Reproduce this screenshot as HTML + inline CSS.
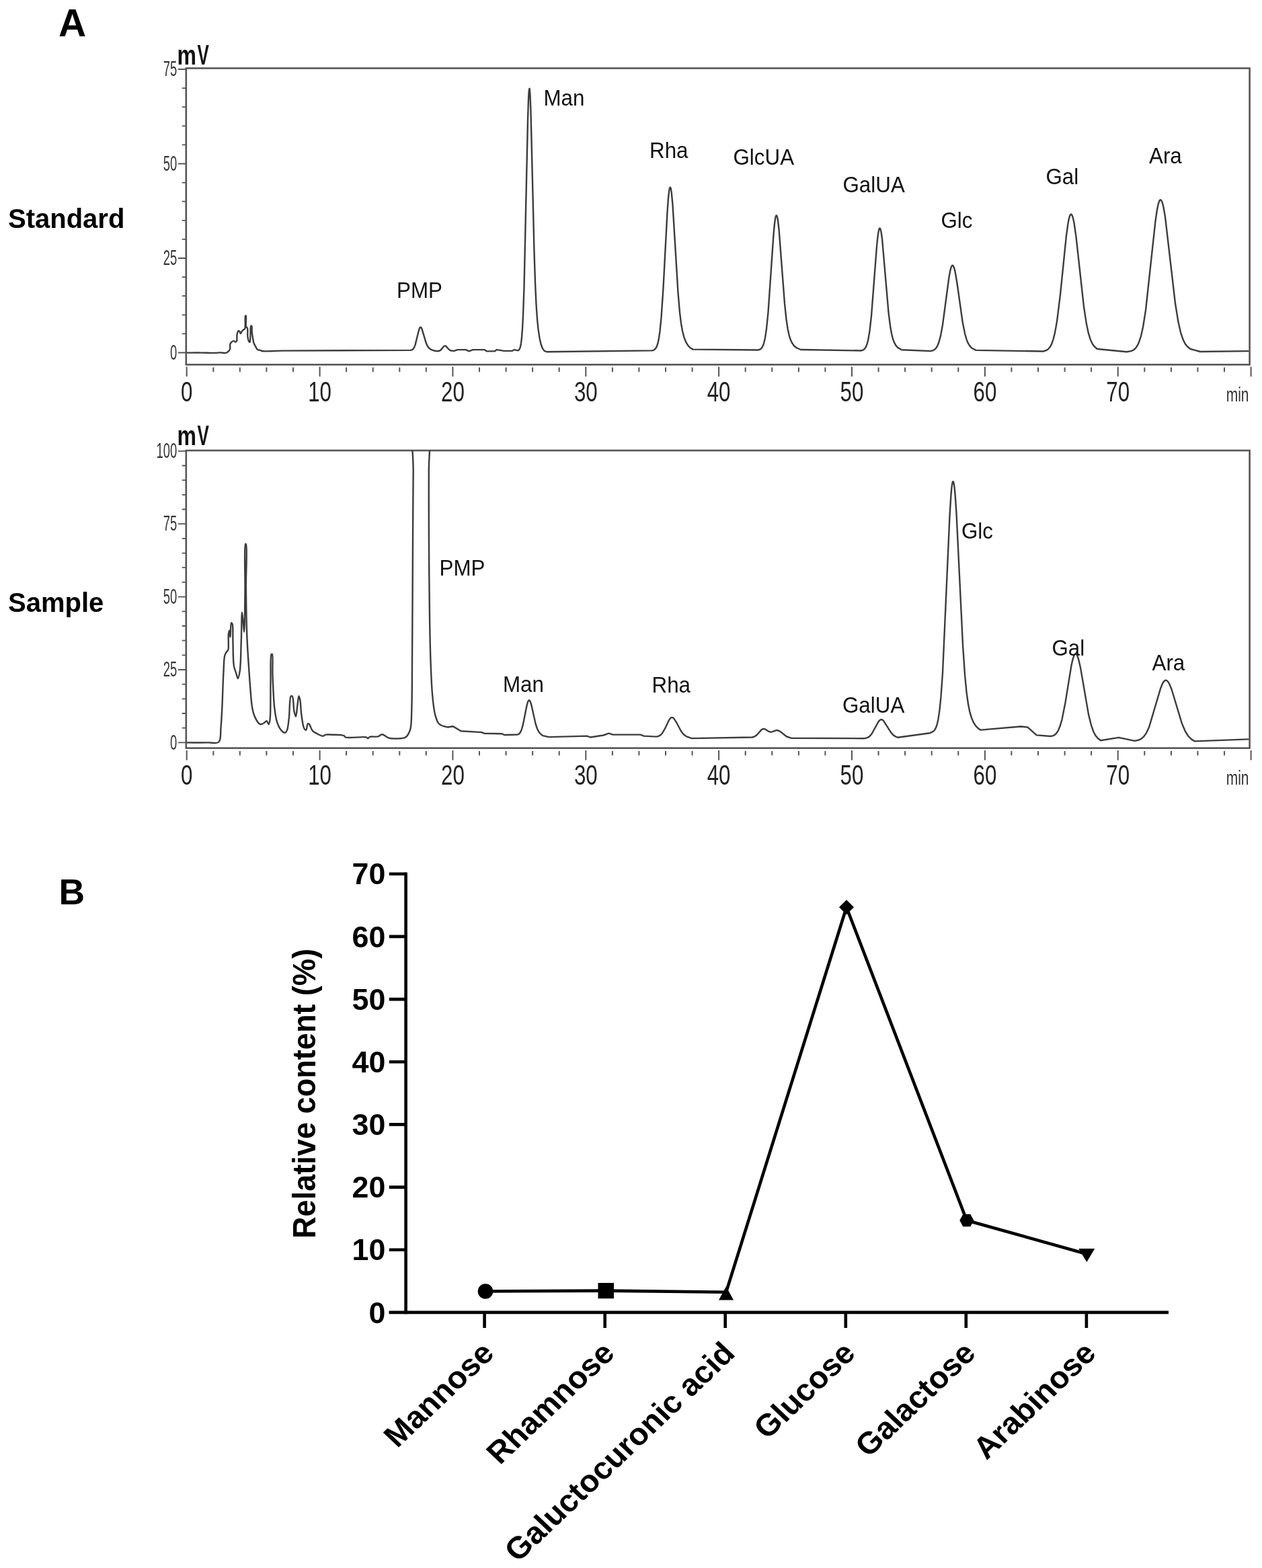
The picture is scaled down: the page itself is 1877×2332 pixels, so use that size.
<!DOCTYPE html>
<html><head><meta charset="utf-8"><title>Figure</title>
<style>html,body{margin:0;padding:0;background:#fff;}svg{display:block;}</style>
</head><body>
<svg width="1877" height="2332" viewBox="0 0 1877 2332" font-family='"Liberation Sans", Arial, sans-serif'>
<rect width="1877" height="2332" fill="#fff"/>
<text x="87.0" y="54.0" font-size="57.0" font-weight="bold" text-anchor="start" fill="#000">A</text>
<text x="12.0" y="339.0" font-size="40.0" font-weight="bold" text-anchor="start" fill="#000">Standard</text>
<text x="12.0" y="910.0" font-size="40.0" font-weight="bold" text-anchor="start" fill="#000">Sample</text>
<rect x="276.8" y="101.5" width="1581.8" height="440.8" fill="none" stroke="#555" stroke-width="2.6"/>
<path d="M264.8 524.5H276.8M270.8 496.4H276.8M270.8 468.3H276.8M270.8 440.2H276.8M270.8 412.1H276.8M264.8 384.0H276.8M270.8 355.9H276.8M270.8 327.8H276.8M270.8 299.7H276.8M270.8 271.6H276.8M264.8 243.5H276.8M270.8 215.4H276.8M270.8 187.3H276.8M270.8 159.2H276.8M270.8 131.1H276.8M264.8 103.0H276.8" stroke="#555" stroke-width="1.8" fill="none"/>
<path d="M277.7 545.5V560.0M317.3 546.5V553.0M356.8 546.5V553.0M396.4 546.5V553.0M436.0 546.5V553.0M475.6 545.5V560.0M515.1 546.5V553.0M554.7 546.5V553.0M594.3 546.5V553.0M633.8 546.5V553.0M673.4 545.5V560.0M713.0 546.5V553.0M752.6 546.5V553.0M792.1 546.5V553.0M831.7 546.5V553.0M871.3 545.5V560.0M910.9 546.5V553.0M950.4 546.5V553.0M990.0 546.5V553.0M1029.6 546.5V553.0M1069.1 545.5V560.0M1108.7 546.5V553.0M1148.3 546.5V553.0M1187.9 546.5V553.0M1227.4 546.5V553.0M1267.0 545.5V560.0M1306.6 546.5V553.0M1346.1 546.5V553.0M1385.7 546.5V553.0M1425.3 546.5V553.0M1464.9 545.5V560.0M1504.4 546.5V553.0M1544.0 546.5V553.0M1583.6 546.5V553.0M1623.1 546.5V553.0M1662.7 545.5V560.0M1702.3 546.5V553.0M1741.9 546.5V553.0M1781.4 546.5V553.0M1821.0 546.5V553.0M1860.6 545.5V560.0" stroke="#555" stroke-width="2" fill="none"/>
<text transform="translate(277.7 596.8) scale(0.740 1)" font-size="42.3" font-weight="normal" text-anchor="middle" fill="#222">0</text>
<text transform="translate(475.6 596.8) scale(0.740 1)" font-size="42.3" font-weight="normal" text-anchor="middle" fill="#222">10</text>
<text transform="translate(673.4 596.8) scale(0.740 1)" font-size="42.3" font-weight="normal" text-anchor="middle" fill="#222">20</text>
<text transform="translate(871.3 596.8) scale(0.740 1)" font-size="42.3" font-weight="normal" text-anchor="middle" fill="#222">30</text>
<text transform="translate(1069.1 596.8) scale(0.740 1)" font-size="42.3" font-weight="normal" text-anchor="middle" fill="#222">40</text>
<text transform="translate(1267.0 596.8) scale(0.740 1)" font-size="42.3" font-weight="normal" text-anchor="middle" fill="#222">50</text>
<text transform="translate(1464.9 596.8) scale(0.740 1)" font-size="42.3" font-weight="normal" text-anchor="middle" fill="#222">60</text>
<text transform="translate(1662.7 596.8) scale(0.740 1)" font-size="42.3" font-weight="normal" text-anchor="middle" fill="#222">70</text>
<text transform="translate(1857.5 597.0) scale(0.700 1)" font-size="30.0" font-weight="normal" text-anchor="end" fill="#333">min</text>
<text transform="translate(263.2 534.7) scale(0.585 1)" font-size="31.5" font-weight="normal" text-anchor="end" fill="#333">0</text>
<text transform="translate(263.2 394.2) scale(0.585 1)" font-size="31.5" font-weight="normal" text-anchor="end" fill="#333">25</text>
<text transform="translate(263.2 253.7) scale(0.585 1)" font-size="31.5" font-weight="normal" text-anchor="end" fill="#333">50</text>
<text transform="translate(263.2 113.2) scale(0.585 1)" font-size="31.5" font-weight="normal" text-anchor="end" fill="#333">75</text>
<text font-weight="bold" fill="#111" font-size="40" transform="translate(263.6 95.7) scale(0.80 1)">m</text>
<text font-weight="bold" fill="#111" font-size="42.7" transform="translate(293.6 95.7) scale(0.61 1)">V</text>
<path d="M278.0 524.6C285.3 524.6 292.8 524.5 300.0 524.6C306.8 524.7 314.9 525.0 320.0 524.9C323.1 524.8 324.9 524.4 327.5 524.4C330.3 524.4 333.9 525.5 336.1 524.9C337.6 524.5 338.6 523.5 339.6 522.6C340.6 521.6 341.7 520.6 342.2 519.2C342.8 517.4 341.7 514.1 342.2 512.2C342.6 510.8 343.3 509.7 344.2 508.8C345.1 508.0 346.7 507.1 347.7 507.1C348.6 507.1 349.3 508.5 350.0 508.5C350.7 508.5 351.5 508.0 352.0 507.1C353.0 505.4 352.0 500.0 352.6 497.3C353.0 495.3 353.8 492.4 354.6 492.1C355.0 491.9 355.6 492.3 356.0 492.7C356.7 493.3 357.2 496.1 357.8 496.1C358.4 496.1 359.1 493.7 359.8 492.7C360.4 491.9 361.1 491.2 361.8 490.6C362.5 490.0 363.5 490.2 364.1 489.2C365.7 486.5 363.9 470.7 365.0 469.6C365.2 469.4 365.6 469.4 365.8 469.6C366.8 470.6 364.9 484.0 366.1 486.3C366.5 487.1 367.4 486.7 367.8 487.5C368.9 489.5 367.9 497.0 368.4 500.7C368.8 503.4 369.3 506.3 370.1 507.6C370.5 508.3 371.2 509.0 371.6 508.8C372.5 508.4 372.1 502.1 372.4 498.4C372.7 494.1 372.3 485.5 373.3 484.6C373.6 484.4 374.0 484.4 374.2 484.6C375.0 485.4 374.4 491.6 374.8 495.0C375.2 498.5 376.0 502.5 376.5 505.3C376.9 507.3 377.0 508.9 377.6 510.5C378.2 512.1 379.2 513.6 380.0 515.1C380.7 516.5 381.3 518.3 382.2 519.2C382.9 519.9 383.7 520.3 384.6 520.6C385.5 520.9 386.6 520.6 387.4 520.9C388.1 521.1 388.2 521.7 389.2 522.0C393.1 523.1 409.7 521.7 420.0 521.6L420.0 521.6L611.0 520.9L613.0 520.2L614.5 519.0L616.0 516.8L617.5 513.1L623.0 491.0L624.0 488.2L624.5 487.3L625.0 486.8L625.5 486.6L626.0 486.8L626.5 487.3L627.5 489.2L633.5 509.3L635.5 514.0L637.5 517.0L640.5 519.6L646.5 521.8L651.5 522.2L653.5 521.8L655.5 520.6L660.0 515.3L661.0 514.6L662.0 514.4L663.0 514.7L668.5 520.5L670.5 521.5L675.5 521.9L680.5 520.1L693.0 520.1L697.5 522.4L703.5 520.1L720.5 520.1L724.0 522.4L735.5 522.4L739.0 520.1L749.5 521.9L762.0 521.9L764.5 520.1L769.5 521.2L771.0 521.0L772.0 520.2L773.0 518.5L774.0 515.6L775.0 510.4L776.0 502.0L777.0 488.9L778.0 469.8L779.5 427.2L785.0 178.3L786.0 148.0L786.5 138.4L787.0 132.9L787.5 131.7L788.0 134.7L788.5 141.7L789.5 166.8L794.5 373.7L796.0 420.0L797.5 452.5L799.0 474.5L800.5 489.4L802.5 502.7L804.5 511.5L806.0 516.0L807.5 519.1L809.0 521.1L810.5 522.3L814.0 523.3L970.0 521.4L972.5 520.6L974.0 519.6L975.5 517.8L977.0 514.9L978.5 510.2L980.0 503.0L981.5 492.7L983.5 472.7L986.5 428.3L992.5 315.3L994.0 294.7L995.0 285.3L995.5 282.1L996.0 279.9L996.5 278.7L997.0 278.6L997.5 279.5L998.0 281.5L999.0 288.3L1000.5 304.9L1008.5 435.7L1011.0 464.6L1013.0 480.9L1015.0 492.3L1017.5 501.9L1020.0 508.3L1023.0 513.4L1026.5 517.2L1030.5 519.6L1127.5 520.5L1130.0 519.8L1132.0 518.4L1133.5 516.6L1135.0 513.6L1136.5 509.0L1138.0 502.4L1140.0 489.2L1142.5 464.6L1150.5 348.8L1152.0 332.9L1153.0 325.6L1153.5 323.1L1154.0 321.4L1154.5 320.5L1155.0 320.5L1155.5 321.2L1156.0 322.6L1157.0 327.8L1158.5 340.5L1167.0 451.4L1169.5 475.0L1171.5 488.4L1173.5 497.9L1175.5 504.5L1178.0 510.0L1181.0 514.2L1185.0 517.5L1191.0 520.0L1280.5 521.5L1283.5 520.7L1285.5 519.3L1287.0 517.5L1288.5 514.6L1290.0 510.3L1291.5 504.1L1293.5 492.0L1296.0 469.9L1304.0 366.5L1305.5 351.9L1306.5 345.1L1307.5 340.8L1308.0 339.8L1308.5 339.4L1309.0 339.8L1309.5 340.8L1310.5 344.7L1312.0 355.0L1321.5 464.3L1324.0 484.5L1326.0 496.0L1328.0 504.0L1330.0 509.4L1332.5 513.9L1335.5 517.1L1341.0 520.2L1384.0 522.1L1388.0 521.1L1390.5 519.5L1392.5 517.3L1394.5 513.9L1396.5 508.8L1399.0 499.4L1402.0 483.2L1411.5 412.1L1413.5 401.6L1414.5 398.0L1415.5 395.7L1416.0 395.1L1416.5 394.8L1417.0 394.8L1417.5 395.2L1418.0 395.9L1419.0 398.1L1420.5 403.7L1423.5 421.0L1431.5 477.9L1435.0 495.7L1437.5 504.6L1440.0 510.7L1442.5 514.7L1445.5 517.8L1451.5 520.9L1551.5 522.5L1556.0 521.2L1559.0 519.2L1561.5 516.3L1564.0 511.8L1566.5 504.8L1569.0 494.9L1572.0 478.1L1577.0 438.1L1586.0 350.1L1588.5 332.3L1590.0 324.8L1591.0 321.4L1592.0 319.4L1592.5 318.9L1593.0 318.7L1593.5 318.9L1594.0 319.4L1595.0 321.3L1596.0 324.5L1597.5 331.5L1600.5 352.1L1612.0 456.1L1616.0 482.1L1619.0 495.9L1622.0 505.5L1625.0 511.8L1628.0 515.8L1632.0 519.0L1675.5 523.3L1682.5 522.1L1686.0 520.5L1689.0 517.8L1691.5 514.3L1694.0 509.0L1697.0 499.8L1700.0 486.5L1704.0 461.5L1718.5 328.6L1721.0 311.7L1722.5 304.4L1723.5 300.9L1724.5 298.6L1725.0 297.8L1725.5 297.4L1726.0 297.3L1726.5 297.4L1727.0 297.8L1728.0 299.5L1729.0 302.2L1730.5 308.2L1733.0 322.6L1748.0 451.3L1752.5 479.1L1756.0 494.3L1759.5 504.8L1762.5 510.9L1766.0 515.5L1770.5 519.0L1785.0 523.0L1857.5 522.1" fill="none" stroke="#3c3c3c" stroke-width="2.4" stroke-linejoin="round"/>
<text transform="translate(590.0 443.0) scale(0.950 1)" font-size="33.0" font-weight="normal" text-anchor="start" fill="#111">PMP</text>
<text transform="translate(808.5 156.5) scale(0.950 1)" font-size="33.0" font-weight="normal" text-anchor="start" fill="#111">Man</text>
<text transform="translate(966.0 234.5) scale(0.950 1)" font-size="33.0" font-weight="normal" text-anchor="start" fill="#111">Rha</text>
<text transform="translate(1090.5 244.5) scale(0.950 1)" font-size="33.0" font-weight="normal" text-anchor="start" fill="#111">GlcUA</text>
<text transform="translate(1253.5 285.5) scale(0.950 1)" font-size="33.0" font-weight="normal" text-anchor="start" fill="#111">GalUA</text>
<text transform="translate(1399.5 338.5) scale(0.950 1)" font-size="33.0" font-weight="normal" text-anchor="start" fill="#111">Glc</text>
<text transform="translate(1555.5 273.5) scale(0.950 1)" font-size="33.0" font-weight="normal" text-anchor="start" fill="#111">Gal</text>
<text transform="translate(1709.0 243.0) scale(0.950 1)" font-size="33.0" font-weight="normal" text-anchor="start" fill="#111">Ara</text>
<rect x="276.8" y="670.0" width="1581.8" height="442.6" fill="none" stroke="#555" stroke-width="2.6"/>
<path d="M264.8 1104.4H276.8M270.8 1082.7H276.8M270.8 1061.0H276.8M270.8 1039.4H276.8M270.8 1017.7H276.8M264.8 996.0H276.8M270.8 974.3H276.8M270.8 952.6H276.8M270.8 931.0H276.8M270.8 909.3H276.8M264.8 887.6H276.8M270.8 865.9H276.8M270.8 844.2H276.8M270.8 822.6H276.8M270.8 800.9H276.8M264.8 779.2H276.8M270.8 757.5H276.8M270.8 735.8H276.8M270.8 714.2H276.8M270.8 692.5H276.8M264.8 670.8H276.8" stroke="#555" stroke-width="1.8" fill="none"/>
<path d="M277.7 1116.0V1130.5M317.3 1117.0V1123.5M356.8 1117.0V1123.5M396.4 1117.0V1123.5M436.0 1117.0V1123.5M475.6 1116.0V1130.5M515.1 1117.0V1123.5M554.7 1117.0V1123.5M594.3 1117.0V1123.5M633.8 1117.0V1123.5M673.4 1116.0V1130.5M713.0 1117.0V1123.5M752.6 1117.0V1123.5M792.1 1117.0V1123.5M831.7 1117.0V1123.5M871.3 1116.0V1130.5M910.9 1117.0V1123.5M950.4 1117.0V1123.5M990.0 1117.0V1123.5M1029.6 1117.0V1123.5M1069.1 1116.0V1130.5M1108.7 1117.0V1123.5M1148.3 1117.0V1123.5M1187.9 1117.0V1123.5M1227.4 1117.0V1123.5M1267.0 1116.0V1130.5M1306.6 1117.0V1123.5M1346.1 1117.0V1123.5M1385.7 1117.0V1123.5M1425.3 1117.0V1123.5M1464.9 1116.0V1130.5M1504.4 1117.0V1123.5M1544.0 1117.0V1123.5M1583.6 1117.0V1123.5M1623.1 1117.0V1123.5M1662.7 1116.0V1130.5M1702.3 1117.0V1123.5M1741.9 1117.0V1123.5M1781.4 1117.0V1123.5M1821.0 1117.0V1123.5M1860.6 1116.0V1130.5" stroke="#555" stroke-width="2" fill="none"/>
<text transform="translate(277.7 1166.8) scale(0.740 1)" font-size="42.3" font-weight="normal" text-anchor="middle" fill="#222">0</text>
<text transform="translate(475.6 1166.8) scale(0.740 1)" font-size="42.3" font-weight="normal" text-anchor="middle" fill="#222">10</text>
<text transform="translate(673.4 1166.8) scale(0.740 1)" font-size="42.3" font-weight="normal" text-anchor="middle" fill="#222">20</text>
<text transform="translate(871.3 1166.8) scale(0.740 1)" font-size="42.3" font-weight="normal" text-anchor="middle" fill="#222">30</text>
<text transform="translate(1069.1 1166.8) scale(0.740 1)" font-size="42.3" font-weight="normal" text-anchor="middle" fill="#222">40</text>
<text transform="translate(1267.0 1166.8) scale(0.740 1)" font-size="42.3" font-weight="normal" text-anchor="middle" fill="#222">50</text>
<text transform="translate(1464.9 1166.8) scale(0.740 1)" font-size="42.3" font-weight="normal" text-anchor="middle" fill="#222">60</text>
<text transform="translate(1662.7 1166.8) scale(0.740 1)" font-size="42.3" font-weight="normal" text-anchor="middle" fill="#222">70</text>
<text transform="translate(1857.5 1167.0) scale(0.700 1)" font-size="30.0" font-weight="normal" text-anchor="end" fill="#333">min</text>
<text transform="translate(263.2 1114.6) scale(0.585 1)" font-size="31.5" font-weight="normal" text-anchor="end" fill="#333">0</text>
<text transform="translate(263.2 1006.2) scale(0.585 1)" font-size="31.5" font-weight="normal" text-anchor="end" fill="#333">25</text>
<text transform="translate(263.2 897.8) scale(0.585 1)" font-size="31.5" font-weight="normal" text-anchor="end" fill="#333">50</text>
<text transform="translate(263.2 789.4) scale(0.585 1)" font-size="31.5" font-weight="normal" text-anchor="end" fill="#333">75</text>
<text transform="translate(263.2 681.0) scale(0.585 1)" font-size="31.5" font-weight="normal" text-anchor="end" fill="#333">100</text>
<text font-weight="bold" fill="#111" font-size="40" transform="translate(263.6 661.9) scale(0.80 1)">m</text>
<text font-weight="bold" fill="#111" font-size="42.7" transform="translate(293.6 661.9) scale(0.61 1)">V</text>
<defs><clipPath id="c2"><rect x="276" y="670" width="1583" height="443"/></clipPath></defs>
<path d="M277.8 1104.4C288.2 1104.4 300.2 1104.6 309.0 1104.4C315.4 1104.2 322.2 1106.6 325.5 1103.5C329.3 1100.0 327.7 1089.8 328.5 1082.0C329.4 1072.6 329.8 1062.5 330.4 1050.9C331.1 1036.1 331.6 1014.2 332.4 1000.2C333.0 990.3 332.8 980.3 334.3 974.9C335.0 972.1 336.2 970.4 337.2 969.0C337.9 968.1 338.7 968.2 339.2 967.0C340.7 963.6 339.2 948.9 339.8 943.7C340.1 941.1 340.7 937.8 341.1 937.8C341.6 937.8 342.1 947.6 342.5 947.6C343.1 947.6 342.7 926.5 344.0 926.1C344.4 926.0 345.2 927.0 345.6 928.1C346.9 931.6 346.1 942.7 346.4 951.5C346.8 962.8 346.4 981.8 347.9 990.4C348.6 994.8 349.9 997.0 350.9 1000.2C351.9 1003.2 352.9 1009.0 353.8 1009.0C354.8 1009.0 355.9 1003.0 356.7 998.2C358.2 988.7 358.2 969.8 358.7 955.4C359.3 940.6 359.2 910.6 360.0 910.6C360.4 910.6 361.1 919.5 361.6 924.2C362.1 929.2 362.7 939.8 363.1 939.8C363.9 939.8 364.2 898.7 364.5 877.4C364.8 855.2 362.9 811.4 365.1 809.2C365.3 809.0 365.7 809.0 365.9 809.2C368.1 811.4 365.7 851.3 365.9 873.5C366.1 897.3 366.5 925.5 367.4 947.6C368.1 965.5 369.4 982.4 370.3 996.3C371.0 1006.7 371.5 1014.4 372.3 1023.6C373.1 1033.2 373.7 1045.0 375.2 1052.8C376.2 1058.2 377.1 1062.3 379.1 1066.4C381.0 1070.4 384.1 1076.3 386.9 1077.2C388.8 1077.8 391.1 1076.1 392.8 1075.2C394.3 1074.4 395.6 1072.1 396.7 1072.3C397.9 1072.5 398.8 1077.3 399.6 1077.2C400.5 1077.1 401.0 1073.8 401.5 1070.3C402.9 1060.6 402.1 1031.1 402.5 1013.8C402.8 999.1 401.7 974.8 403.7 972.9C404.0 972.6 404.5 972.6 404.8 972.9C406.4 974.5 405.0 991.0 405.4 1002.1C406.0 1016.7 406.7 1039.5 408.3 1052.8C409.3 1061.5 410.2 1068.3 412.2 1074.2C413.7 1078.8 415.7 1083.2 418.1 1085.9C419.8 1087.9 422.4 1090.0 423.9 1089.8C425.2 1089.6 426.1 1087.8 426.9 1085.9C428.5 1082.3 428.9 1075.2 429.8 1068.4C431.0 1059.1 430.3 1037.5 432.7 1035.3C433.3 1034.8 434.1 1034.8 434.7 1035.3C436.7 1037.1 436.3 1053.2 437.6 1058.6C438.3 1061.6 439.3 1065.6 440.0 1065.5C441.0 1065.4 441.6 1054.2 442.4 1048.9C443.1 1044.1 443.6 1035.4 444.4 1035.3C445.0 1035.3 445.8 1038.5 446.3 1041.1C447.3 1045.9 447.3 1055.5 448.3 1062.5C449.3 1069.4 450.3 1079.4 452.2 1083.0C453.0 1084.6 454.3 1086.1 455.1 1085.9C456.4 1085.6 456.7 1076.8 458.0 1076.2C458.6 1075.9 459.3 1076.5 460.0 1077.2C461.5 1078.7 462.6 1084.4 464.9 1086.9C467.0 1089.2 470.0 1090.5 472.7 1091.8C475.2 1093.0 478.3 1094.8 480.4 1094.7C481.9 1094.6 482.6 1093.1 484.3 1092.7C486.8 1092.1 490.4 1092.6 494.1 1092.7C499.1 1092.9 508.7 1092.7 511.6 1094.1C512.9 1094.7 512.4 1095.9 513.8 1096.5C518.1 1098.4 540.6 1095.0 545.0 1096.5C546.3 1097.0 546.6 1098.3 547.3 1098.3C548.1 1098.3 548.4 1096.5 549.6 1096.0C552.0 1094.9 558.9 1096.2 562.2 1095.3C564.6 1094.6 566.1 1092.4 568.0 1092.3C569.7 1092.2 571.3 1093.7 573.0 1094.5C574.8 1095.4 575.9 1096.9 578.4 1097.6C583.1 1098.9 595.9 1098.6 600.3 1097.6C602.3 1097.1 603.3 1096.5 604.5 1095.5C605.6 1094.6 606.3 1093.5 607.2 1091.9C608.5 1089.6 609.9 1086.7 610.7 1082.7C612.1 1076.0 611.9 1066.3 612.3 1055.0C612.9 1037.1 612.8 1014.9 613.0 985.8C613.4 935.9 613.8 835.6 614.1 782.9C614.3 749.2 614.5 731.2 614.7 700.0C614.9 659.4 601.9 573.3 615.3 560.0C620.6 554.7 632.3 554.7 637.6 560.0C650.9 573.3 637.7 657.9 637.8 700.0C637.8 734.6 637.7 761.0 637.9 794.5C638.1 832.6 638.4 881.7 639.0 916.7C639.4 943.0 639.8 965.1 640.6 985.8C641.2 1002.7 641.8 1018.6 643.0 1032.0C643.9 1042.4 645.1 1052.9 646.4 1059.6C647.2 1063.6 647.9 1066.2 649.0 1069.0C649.9 1071.5 650.7 1073.9 652.2 1075.7C653.7 1077.4 655.8 1078.5 658.0 1079.5C660.4 1080.5 663.3 1080.8 666.0 1081.5L666.0 1081.5L673.5 1080.3L674.0 1080.4L685.5 1087.3L716.5 1089.1L720.0 1090.7L746.5 1091.2L750.0 1093.0L769.5 1092.6L771.5 1091.9L773.0 1090.5L774.5 1088.1L776.0 1084.4L778.0 1077.1L783.5 1049.4L785.0 1044.0L786.0 1042.0L786.5 1041.5L787.0 1041.4L787.5 1041.6L788.0 1042.1L789.0 1044.2L790.5 1049.2L796.5 1076.1L799.0 1083.8L801.0 1087.8L803.5 1091.1L807.5 1094.2L816.5 1096.1L873.0 1094.6L878.0 1096.5L897.5 1093.5L905.5 1090.7L911.5 1092.6L952.5 1092.6L957.5 1094.6L976.5 1095.6L980.0 1094.7L982.5 1093.1L985.0 1090.5L989.0 1083.7L995.0 1071.1L997.0 1068.3L998.0 1067.4L999.0 1067.0L1000.0 1067.1L1001.0 1067.5L1002.5 1068.8L1006.0 1074.3L1013.0 1087.5L1016.5 1092.0L1021.0 1095.4L1029.0 1098.1L1119.0 1096.5L1122.5 1095.3L1125.5 1093.2L1132.5 1085.4L1134.5 1084.2L1136.0 1083.9L1137.5 1084.2L1144.0 1088.2L1146.0 1088.7L1148.5 1088.4L1154.5 1086.2L1157.0 1086.3L1160.0 1087.6L1170.0 1095.5L1176.5 1097.7L1286.0 1098.2L1290.5 1096.9L1293.5 1094.9L1296.5 1091.5L1306.5 1073.4L1308.5 1071.1L1310.0 1070.2L1311.0 1070.1L1312.5 1070.6L1314.0 1071.8L1325.5 1089.9L1329.0 1093.6L1333.5 1096.2L1335.5 1096.8L1383.0 1090.2L1387.5 1088.1L1389.5 1086.4L1391.0 1084.3L1392.5 1081.1L1394.0 1076.3L1395.5 1069.4L1397.5 1055.9L1399.5 1036.2L1402.0 1001.0L1412.5 767.2L1414.5 735.2L1415.5 724.7L1416.0 720.9L1416.5 718.2L1417.0 716.7L1417.5 716.1L1418.0 716.7L1418.5 718.2L1419.5 724.2L1420.5 734.0L1422.5 763.2L1432.0 958.8L1435.0 1003.0L1437.5 1029.1L1440.0 1047.1L1442.5 1059.4L1445.0 1067.7L1448.0 1074.6L1451.5 1079.9L1455.5 1083.8L1458.5 1085.6L1518.0 1080.5L1528.0 1081.5L1528.5 1081.6L1541.5 1093.2L1542.0 1093.4L1562.5 1095.0L1566.5 1094.1L1569.0 1092.7L1571.5 1090.2L1574.0 1086.3L1576.5 1080.3L1579.5 1070.1L1584.5 1044.9L1593.5 989.5L1595.5 980.7L1597.0 976.1L1598.0 974.0L1599.0 972.9L1599.5 972.6L1600.0 972.6L1600.5 972.8L1601.5 973.9L1602.5 975.7L1604.0 980.0L1607.0 992.9L1619.0 1062.4L1623.0 1078.7L1626.5 1088.5L1629.5 1094.1L1633.0 1098.3L1637.0 1101.2L1664.0 1096.9L1687.5 1101.9L1694.0 1100.5L1698.0 1098.4L1701.5 1095.1L1705.0 1090.1L1709.0 1081.6L1726.5 1022.7L1729.0 1016.7L1731.0 1013.5L1732.5 1012.2L1733.5 1011.8L1734.5 1011.8L1735.5 1012.3L1737.0 1013.6L1739.0 1016.7L1742.5 1025.0L1758.0 1076.3L1763.0 1087.9L1767.5 1095.0L1772.5 1099.9L1777.0 1102.4L1857.5 1099.4" fill="none" stroke="#3c3c3c" stroke-width="2.4" stroke-linejoin="round" clip-path="url(#c2)"/>
<text transform="translate(653.5 856.0) scale(0.950 1)" font-size="33.0" font-weight="normal" text-anchor="start" fill="#111">PMP</text>
<text transform="translate(748.0 1029.0) scale(0.950 1)" font-size="33.0" font-weight="normal" text-anchor="start" fill="#111">Man</text>
<text transform="translate(969.5 1030.0) scale(0.950 1)" font-size="33.0" font-weight="normal" text-anchor="start" fill="#111">Rha</text>
<text transform="translate(1253.0 1060.0) scale(0.950 1)" font-size="33.0" font-weight="normal" text-anchor="start" fill="#111">GalUA</text>
<text transform="translate(1430.0 800.5) scale(0.950 1)" font-size="33.0" font-weight="normal" text-anchor="start" fill="#111">Glc</text>
<text transform="translate(1564.5 975.0) scale(0.950 1)" font-size="33.0" font-weight="normal" text-anchor="start" fill="#111">Gal</text>
<text transform="translate(1713.5 997.0) scale(0.950 1)" font-size="33.0" font-weight="normal" text-anchor="start" fill="#111">Ara</text>
<text x="87.5" y="1344.6" font-size="53.5" font-weight="bold" text-anchor="start" fill="#000">B</text>
<path d="M603.6 1297.4V1954.2" stroke="#000" stroke-width="4.6" fill="none"/>
<path d="M578.5 1951.9H1738.0" stroke="#000" stroke-width="4.6" fill="none"/>
<path d="M578.8 1858.7H603.6M578.8 1765.6H603.6M578.8 1672.4H603.6M578.8 1579.2H603.6M578.8 1486.1H603.6M578.8 1392.9H603.6M578.8 1299.7H603.6" stroke="#000" stroke-width="4.6" fill="none"/>
<text transform="translate(573.3 1967.5) scale(1.030 1)" font-size="43.5" font-weight="bold" text-anchor="end" fill="#000">0</text>
<text transform="translate(573.3 1874.3) scale(1.030 1)" font-size="43.5" font-weight="bold" text-anchor="end" fill="#000">10</text>
<text transform="translate(573.3 1781.2) scale(1.030 1)" font-size="43.5" font-weight="bold" text-anchor="end" fill="#000">20</text>
<text transform="translate(573.3 1688.0) scale(1.030 1)" font-size="43.5" font-weight="bold" text-anchor="end" fill="#000">30</text>
<text transform="translate(573.3 1594.8) scale(1.030 1)" font-size="43.5" font-weight="bold" text-anchor="end" fill="#000">40</text>
<text transform="translate(573.3 1501.7) scale(1.030 1)" font-size="43.5" font-weight="bold" text-anchor="end" fill="#000">50</text>
<text transform="translate(573.3 1408.5) scale(1.030 1)" font-size="43.5" font-weight="bold" text-anchor="end" fill="#000">60</text>
<text transform="translate(573.3 1315.3) scale(1.030 1)" font-size="43.5" font-weight="bold" text-anchor="end" fill="#000">70</text>
<path d="M720.6 1951.9V1974.9M899.7 1951.9V1974.9M1078.7 1951.9V1974.9M1257.8 1951.9V1974.9M1436.8 1951.9V1974.9M1615.9 1951.9V1974.9" stroke="#000" stroke-width="4.6" fill="none"/>
<text transform="translate(468.5 1842) rotate(-90) scale(0.94 1)" font-size="48" font-weight="bold">Relative content (%)</text>
<text transform="translate(737.4 2015.1) scale(1.14 1.085) rotate(-45)" font-size="42" font-weight="bold" text-anchor="end">Mannose</text>
<text transform="translate(916.5 2015.1) scale(1.14 1.085) rotate(-45)" font-size="42" font-weight="bold" text-anchor="end">Rhamnose</text>
<text transform="translate(1095.5 2015.1) scale(1.14 1.085) rotate(-45)" font-size="42" font-weight="bold" text-anchor="end">Galuctocuronic acid</text>
<text transform="translate(1274.6 2015.1) scale(1.14 1.085) rotate(-45)" font-size="42" font-weight="bold" text-anchor="end">Glucose</text>
<text transform="translate(1453.6 2015.1) scale(1.14 1.085) rotate(-45)" font-size="42" font-weight="bold" text-anchor="end">Galactose</text>
<text transform="translate(1632.7 2015.1) scale(1.14 1.085) rotate(-45)" font-size="42" font-weight="bold" text-anchor="end">Arabinose</text>
<path d="M722.0 1920.5L901.3 1919.6L1080.0 1921.7L1259.0 1349.2L1437.8 1815.0L1616.3 1865.0" fill="none" stroke="#000" stroke-width="4.6" stroke-linejoin="miter"/>
<circle cx="722.0" cy="1920.5" r="11.3" fill="#000"/>
<rect x="889.5" y="1908.0" width="23.5" height="23.2" fill="#000"/>
<path d="M1080.0 1913.2L1091.0 1933.5L1069.0 1933.5Z" fill="#000"/>
<path d="M1259.0 1338.2L1270.0 1349.2L1259.0 1360.2L1248.0 1349.2Z" fill="#000"/>
<path d="M1427.3 1815.0L1432.3 1805.7L1443.3 1805.7L1448.3 1815.0L1443.3 1824.3L1432.3 1824.3Z" fill="#000"/>
<path d="M1604.3 1857.0L1628.3 1857.0L1616.3 1877.0Z" fill="#000"/>
</svg>
</body></html>
